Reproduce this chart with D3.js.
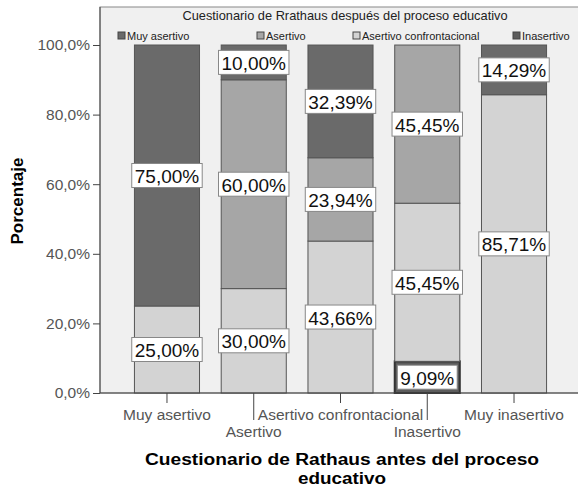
<!DOCTYPE html>
<html>
<head>
<meta charset="utf-8">
<script src="https://cdn.jsdelivr.net/npm/d3@7"></script>
<style>
  body { margin: 0; background: #fff; }
  svg { display: block; font-family: "Liberation Sans", Arial, sans-serif; }
</style>
</head>
<body>
<div id="chart"></div>
<script>
// categories before the course (x axis)
const categories = ['Muy asertivo', 'Asertivo', 'Asertivo confrontacional', 'Inasertivo', 'Muy inasertivo'];
// series after the course, legend order (top of stack first)
const seriesNames = ['Muy asertivo', 'Asertivo', 'Asertivo confrontacional', 'Inasertivo'];
const muyAsertivo = [75.00, 10.00, 32.39, 0, 14.29];
const asertivo = [0, 60.00, 23.94, 45.45, 0];
const asertivoConfrontacional = [25.00, 30.00, 43.66, 45.45, 85.71];
const inasertivo = [0, 0, 0, 9.09, 0];
const yTicks = [0, 20, 40, 60, 80, 100];

const seriesColors = ['#6a6a6a', '#a6a6a6', '#d3d3d3', '#5c5c5c'];

const width = 578, height = 488;
const plot = { left: 100, right: 580, top: 7, bottom: 393 };

const svg = d3.select('#chart').append('svg')
    .attr('width', width)
    .attr('height', height);

// table for stacking
const table = categories.map((c, i) => ({
    cat: c,
    'Muy asertivo': muyAsertivo[i],
    'Asertivo': asertivo[i],
    'Asertivo confrontacional': asertivoConfrontacional[i],
    'Inasertivo': inasertivo[i],
}));
const stackKeys = seriesNames.slice().reverse(); // bottom first
const stacked = d3.stack().keys(stackKeys)(table);

const xScale = d3.scaleBand()
    .domain(categories)
    .range([123.6, 557.4])
    .paddingInner(0.25)
    .paddingOuter(0.125);

const yScale = d3.scaleLinear()
    .domain([0, 100])
    .range([393, 45]);

const color = d3.scaleOrdinal().domain(seriesNames).range(seriesColors);

const locale = d3.formatLocale({ decimal: ',', thousands: '.', grouping: [3], currency: ['', '€'] });
const fmtLabel = v => locale.format('.2f')(v) + '%';
const fmtTick = v => locale.format('.1f')(v) + '%';

// plot background
svg.append('rect')
    .attr('x', plot.left).attr('y', plot.top)
    .attr('width', plot.right - plot.left).attr('height', plot.bottom - plot.top)
    .attr('fill', '#f0f0f0')
    .attr('stroke', '#888')
    .attr('stroke-width', 1);

// bars
const layers = svg.append('g').selectAll('g')
    .data(stacked)
    .join('g')
    .attr('fill', d => color(d.key));

layers.selectAll('rect')
    .data(d => d.map(s => ({ key: d.key, s })))
    .join('rect')
    .filter(d => d.s[1] - d.s[0] > 0)
    .attr('x', d => xScale(d.s.data.cat))
    .attr('y', d => yScale(d.s[1]))
    .attr('width', xScale.bandwidth())
    .attr('height', d => yScale(d.s[0]) - yScale(d.s[1]))
    .attr('stroke', d => d.key === 'Inasertivo' ? '#333' : '#555')
    .attr('stroke-width', d => d.key === 'Inasertivo' ? 2 : 1);

// value labels
const labels = [];
stacked.forEach(layer => {
    layer.forEach(s => {
        const v = s[1] - s[0];
        if (v > 0) labels.push({ v, cat: s.data.cat, mid: (s[0] + s[1]) / 2 });
    });
});

const lg = svg.append('g');
labels.forEach(d => {
    const cx = xScale(d.cat) + xScale.bandwidth() / 2;
    let cy = yScale(d.mid);
    cy = Math.min(cy, plot.bottom - 14);
    const g = lg.append('g');
    const t = g.append('text')
        .attr('x', cx).attr('y', cy + 1)
        .attr('text-anchor', 'middle')
        .attr('dominant-baseline', 'central')
        .attr('font-size', 19)
        .attr('fill', '#111')
        .text(fmtLabel(d.v));
    const w = t.node().getComputedTextLength();
    g.insert('rect', 'text')
        .attr('x', cx - w / 2 - 3).attr('y', cy - 12)
        .attr('width', w + 6).attr('height', 24)
        .attr('fill', '#fff')
        .attr('stroke', '#888')
        .attr('stroke-width', 1);
});

// y axis
const yAxis = svg.append('g')
    .attr('transform', `translate(${plot.left},0)`)
    .call(d3.axisLeft(yScale).tickValues(yTicks).tickFormat(fmtTick).tickSize(7).tickPadding(3));
yAxis.select('.domain').attr('stroke', '#444').attr('d', `M0,${plot.top}V${plot.bottom}`);
yAxis.selectAll('.tick line').attr('stroke', '#444');
yAxis.selectAll('.tick text').attr('font-size', 15.5).attr('fill', '#555').attr('font-family', '"Liberation Sans", Arial, sans-serif');

// x axis with staggered labels
const xAxis = svg.append('g')
    .attr('transform', `translate(0,${plot.bottom})`)
    .call(d3.axisBottom(xScale).tickSize(0));
xAxis.select('.domain').attr('stroke', '#444').attr('d', `M${plot.left},0H${plot.right}`);
xAxis.selectAll('.tick').each(function (d, i) {
    const tick = d3.select(this);
    const low = i % 2 === 1;
    tick.select('line').attr('stroke', '#444').attr('y2', low ? 27 : 10);
    tick.select('text')
        .attr('y', low ? 44 : 27)
        .attr('dy', null)
        .attr('font-size', 15.5)
        .attr('fill', '#555')
        .attr('font-family', '"Liberation Sans", Arial, sans-serif');
});

// axis titles
svg.append('text')
    .attr('transform', 'translate(23,201) rotate(-90)')
    .attr('text-anchor', 'middle')
    .attr('font-size', 17)
    .attr('font-weight', 'bold')
    .text('Porcentaje');

svg.append('text')
    .attr('x', 342).attr('y', 465)
    .attr('text-anchor', 'middle')
    .attr('font-size', 16)
    .attr('textLength', 394)
    .attr('lengthAdjust', 'spacingAndGlyphs')
    .attr('font-weight', 'bold')
    .text('Cuestionario de Rathaus antes del proceso');
svg.append('text')
    .attr('x', 342).attr('y', 484)
    .attr('text-anchor', 'middle')
    .attr('font-size', 16)
    .attr('textLength', 88)
    .attr('lengthAdjust', 'spacingAndGlyphs')
    .attr('font-weight', 'bold')
    .text('educativo');

// legend
svg.append('text')
    .attr('x', 345).attr('y', 20)
    .attr('text-anchor', 'middle')
    .attr('font-size', 12.8)
    .attr('fill', '#222')
    .text('Cuestionario de Rrathaus después del proceso educativo');

const legendX = [118, 257, 353, 513];
const leg = svg.append('g').selectAll('g')
    .data(seriesNames)
    .join('g')
    .attr('transform', (d, i) => `translate(${legendX[i]},32)`);
leg.append('rect')
    .attr('width', 7).attr('height', 7)
    .attr('fill', d => color(d))
    .attr('stroke', '#444');
leg.append('text')
    .attr('x', 9).attr('y', 8)
    .attr('font-size', 11)
    .attr('fill', '#222')
    .text(d => d);
</script>
</body>
</html>
